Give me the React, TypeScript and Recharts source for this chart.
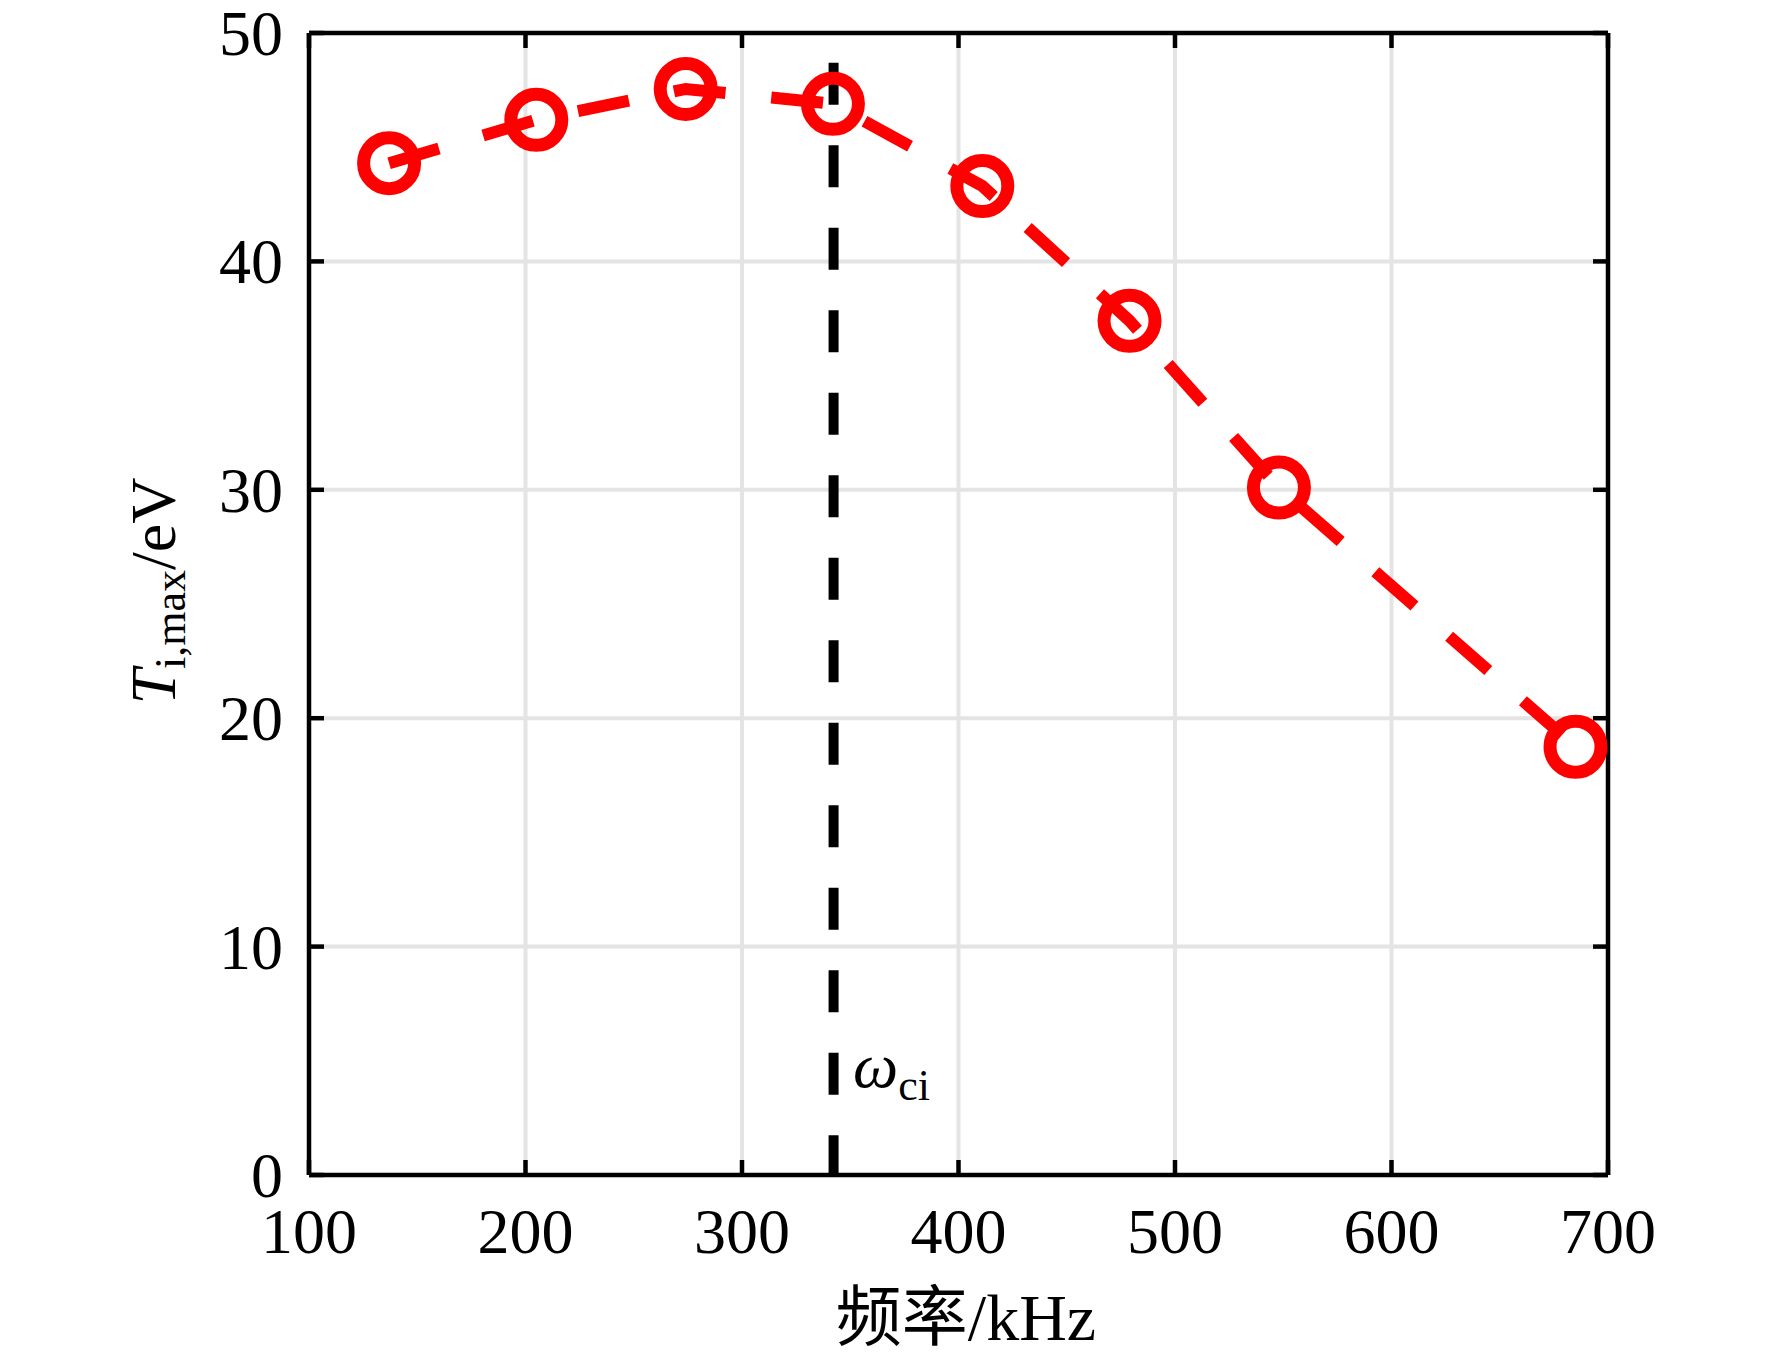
import React from 'react';
import { ComposedChart, Line, XAxis, YAxis, CartesianGrid } from 'recharts';

const freqKHz = [137, 205, 274, 342, 411, 479, 548, 685];
const tiMax = [44.3, 46.2, 47.55, 46.9, 43.3, 37.4, 30.1, 18.75];
const xTicks = [100, 200, 300, 400, 500, 600, 700];
const yTicks = [0, 10, 20, 30, 40, 50];
const omegaCiFreq = 342.3;
const omegaLineY = [48.7, 0];

const seriesData = freqKHz.map((f, i) => ({ f, t: tiMax[i] }));
const vlineData = omegaLineY.map((v) => ({ f: omegaCiFreq, v }));

const FONT = "'Liberation Serif', 'Times New Roman', 'Noto Sans CJK SC', serif";
const TICK_LEN = 15;
const AX_W = 4.5;

const BottomTick = (props: any) => {
  const { x, y, payload } = props;
  return (
    <g>
      <line x1={x} y1={y} x2={x} y2={y - TICK_LEN} stroke="#000" strokeWidth={AX_W} />
      <text x={x} y={y + 78} textAnchor="middle" fontSize={64} fontFamily={FONT} fill="#000">
        {payload.value}
      </text>
    </g>
  );
};

const TopTick = (props: any) => {
  const { x, y } = props;
  return <line x1={x} y1={y} x2={x} y2={y + TICK_LEN} stroke="#000" strokeWidth={AX_W} />;
};

const LeftTick = (props: any) => {
  const { x, y, payload } = props;
  return (
    <g>
      <line x1={x} y1={y} x2={x + TICK_LEN} y2={y} stroke="#000" strokeWidth={AX_W} />
      <text x={x - 26} y={y + 22} textAnchor="end" fontSize={64} fontFamily={FONT} fill="#000">
        {payload.value}
      </text>
    </g>
  );
};

const RightTick = (props: any) => {
  const { x, y } = props;
  return <line x1={x} y1={y} x2={x - TICK_LEN} y2={y} stroke="#000" strokeWidth={AX_W} />;
};

const RingDot = (props: any) => {
  const { cx, cy, index } = props;
  if (cx == null || cy == null) return null;
  return <circle key={`d${index}`} cx={cx} cy={cy} r={25.5} fill="none" stroke="#ff0000" strokeWidth={13} />;
};

export default function App() {
  return (
    <div style={{ position: 'absolute', left: 0, top: 0, width: 1772, height: 1359, background: '#fff' }}>
      <ComposedChart
        width={1772}
        height={1359}
        margin={{ top: 32, right: 163, bottom: 124, left: 229 }}
        data={seriesData}
      >
        <CartesianGrid stroke="#e4e4e4" strokeWidth={4} />
        <XAxis
          dataKey="f"
          type="number"
          domain={[100, 700]}
          ticks={xTicks}
          allowDataOverflow
          height={60}
          tickSize={0}
          tickMargin={0}
          tickLine={false}
          axisLine={{ stroke: '#000', strokeWidth: AX_W }}
          tick={<BottomTick />}
          interval={0}
        />
        <XAxis
          xAxisId="top"
          orientation="top"
          dataKey="f"
          type="number"
          domain={[100, 700]}
          ticks={xTicks}
          allowDataOverflow
          height={1}
          tickSize={0}
          tickMargin={0}
          tickLine={false}
          axisLine={{ stroke: '#000', strokeWidth: AX_W }}
          tick={<TopTick />}
          interval={0}
        />
        <YAxis
          type="number"
          domain={[0, 50]}
          ticks={yTicks}
          allowDataOverflow
          width={80}
          tickSize={0}
          tickMargin={0}
          tickLine={false}
          axisLine={{ stroke: '#000', strokeWidth: AX_W }}
          tick={<LeftTick />}
          interval={0}
        />
        <YAxis
          yAxisId="right"
          orientation="right"
          type="number"
          domain={[0, 50]}
          ticks={yTicks}
          allowDataOverflow
          width={1}
          tickSize={0}
          tickMargin={0}
          tickLine={false}
          axisLine={{ stroke: '#000', strokeWidth: AX_W }}
          tick={<RightTick />}
          interval={0}
        />
        <Line
          dataKey="t"
          type="linear"
          stroke="#ff0000"
          strokeWidth={12}
          strokeDasharray="52 46"
          dot={RingDot}
          activeDot={false}
          isAnimationActive={false}
        />
        <Line
          data={vlineData}
          dataKey="v"
          type="linear"
          stroke="#000"
          strokeWidth={10}
          strokeDasharray="42 40.5"
          dot={false}
          activeDot={false}
          isAnimationActive={false}
        />
      </ComposedChart>
      <svg
        width={1772}
        height={1359}
        style={{ position: 'absolute', left: 0, top: 0, pointerEvents: 'none' }}
      >
        <text x={966} y={1340} textAnchor="middle" fontSize={66} fontFamily={FONT} fill="#000">
          频率/kHz
        </text>
        <text
          x={175}
          y={591}
          transform="rotate(-90 175 591)"
          textAnchor="middle"
          fontSize={64}
          fontFamily={FONT}
          fill="#000"
        >
          <tspan fontStyle="italic">T</tspan>
          <tspan fontSize={44} dy={10}>i,max</tspan>
          <tspan dy={-10}>/eV</tspan>
        </text>
        <text x={853} y={1087} fontSize={64} fontFamily={FONT} fill="#000">
          <tspan fontStyle="italic">ω</tspan>
          <tspan fontSize={44} dy={13}>ci</tspan>
        </text>
      </svg>
    </div>
  );
}
